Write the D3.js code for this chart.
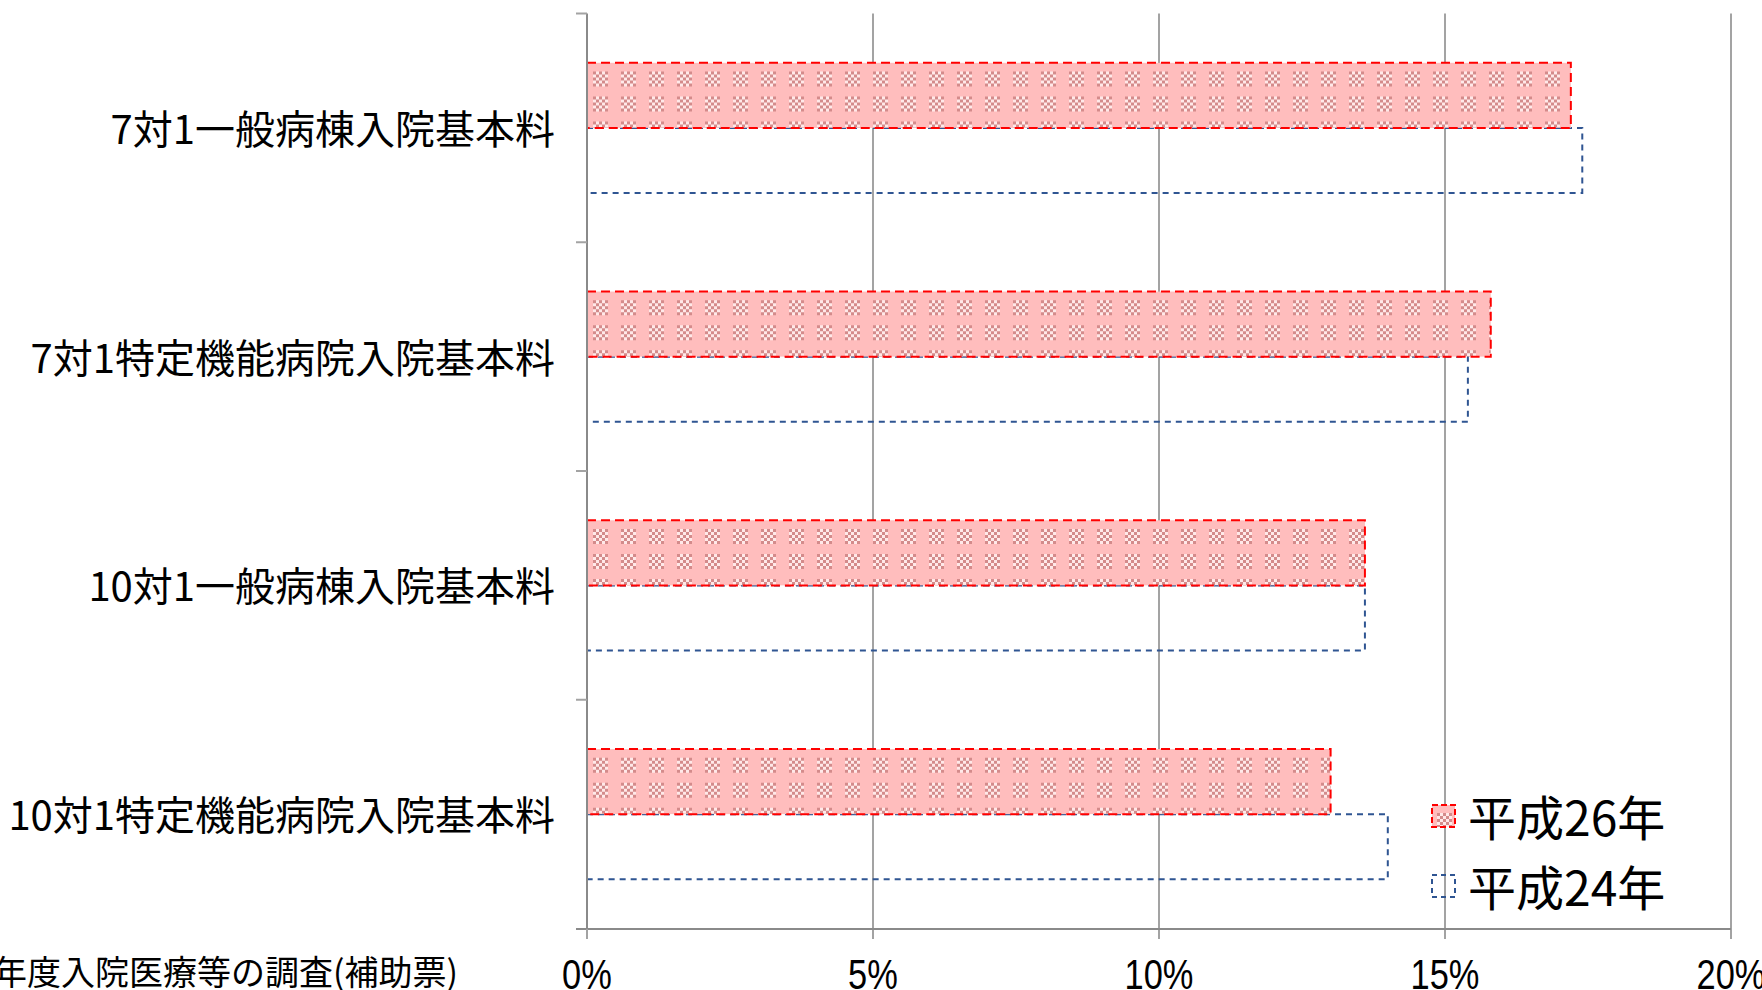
<!DOCTYPE html>
<html>
<head>
<meta charset="utf-8">
<script src="https://cdn.jsdelivr.net/npm/d3@7"></script>
<style>
  html, body { margin: 0; padding: 0; background: #fff; overflow: hidden; }
  svg { display: block; }
</style>
</head>
<body>
<svg width="1762" height="990"></svg>
<script>
// categories and series
var categories = ['7対1一般病棟入院基本料', '7対1特定機能病院入院基本料', '10対1一般病棟入院基本料', '10対1特定機能病院入院基本料'];
var seriesNames = ['平成26年', '平成24年'];
var h26 = [17.2, 15.8, 13.6, 13.0];
var h24 = [17.4, 15.4, 13.6, 14.0];
var xTicks = [0, 5, 10, 15, 20];
var sourceText = '出典：平成26年度入院医療等の調査(補助票)';

var svg = d3.select('svg');
var jp = '"Noto Sans CJK JP", "Noto Sans", sans-serif';

var x = d3.scaleLinear().domain([0, 20]).range([587, 1731]);
var y = d3.scaleBand().domain(categories).range([13.5, 928.5]).padding(0);
var y1 = d3.scaleBand().domain(seriesNames).range([0, y.bandwidth()])
	.paddingInner(0).paddingOuter(0.758);

// checker pattern like the excel fill
var defs = svg.append('defs');
var pat = defs.append('pattern')
	.attr('id', 'chk')
	.attr('patternUnits', 'userSpaceOnUse')
	.attr('x', 587).attr('y', 3)
	.attr('width', 28).attr('height', 25);
pat.append('rect').attr('width', 28).attr('height', 25).attr('fill', '#ffbdbd');
for (var i = 0; i < 5; i++) {
	for (var j = 0; j < 5; j++) {
		pat.append('rect')
			.attr('x', 6 + i * 3).attr('y', 5 + j * 3)
			.attr('width', 3).attr('height', 3)
			.attr('fill', (i + j) % 2 === 0 ? '#d48b8b' : '#ffe9e9');
	}
}

// gridlines
svg.append('g').selectAll('line')
	.data(xTicks.slice(1))
	.join('line')
	.attr('x1', d => x(d)).attr('x2', d => x(d))
	.attr('y1', 13.5).attr('y2', 939)
	.attr('stroke', '#a3a3a3').attr('stroke-width', 2);

// bottom axis line + ticks
svg.append('line')
	.attr('x1', 576).attr('x2', x(20))
	.attr('y1', 929).attr('y2', 929)
	.attr('stroke', '#8a8a8a').attr('stroke-width', 2);
svg.append('line')
	.attr('x1', x(0)).attr('x2', x(0))
	.attr('y1', 929).attr('y2', 939)
	.attr('stroke', '#a3a3a3').attr('stroke-width', 2);

// bars
var rows = categories.map(function(c, k) {
	return {cat: c, vals: [h26[k], h24[k]]};
});
var grp = svg.append('g').selectAll('g')
	.data(rows)
	.join('g')
	.attr('transform', d => 'translate(0,' + y(d.cat) + ')');

grp.append('rect')
	.attr('x', x(0))
	.attr('y', y1(seriesNames[1]))
	.attr('width', d => x(d.vals[1]) - x(0))
	.attr('height', y1.bandwidth())
	.attr('fill', 'none')
	.attr('stroke', '#2f5592').attr('stroke-width', 2)
	.attr('stroke-dasharray', '6,5');

grp.append('rect')
	.attr('x', x(0))
	.attr('y', y1(seriesNames[0]))
	.attr('width', d => x(d.vals[0]) - x(0))
	.attr('height', y1.bandwidth())
	.attr('fill', 'url(#chk)')
	.attr('stroke', '#ff0000').attr('stroke-width', 2)
	.attr('stroke-dasharray', '9,5');

// left axis with category ticks
svg.append('line')
	.attr('x1', x(0)).attr('x2', x(0))
	.attr('y1', 13.5).attr('y2', 929)
	.attr('stroke', '#8a8a8a').attr('stroke-width', 2);
svg.append('g').selectAll('line')
	.data(categories)
	.join('line')
	.attr('x1', 576).attr('x2', x(0))
	.attr('y1', d => y(d)).attr('y2', d => y(d))
	.attr('stroke', '#a3a3a3').attr('stroke-width', 2);

// category labels
svg.append('g').selectAll('text')
	.data(categories)
	.join('text')
	.attr('x', 555)
	.attr('y', d => y(d) + y.bandwidth() / 2 + 16)
	.attr('text-anchor', 'end')
	.style('font-family', jp)
	.style('font-size', '40px')
	.attr('fill', '#000')
	.text(d => d);

// x tick labels
svg.append('g').selectAll('text')
	.data(xTicks)
	.join('text')
	.attr('transform', d => 'translate(' + x(d) + ',989) scale(0.82,1)')
	.attr('text-anchor', 'middle')
	.style('font-family', '"Liberation Sans Narrow", "Liberation Sans", sans-serif')
	.style('font-size', '42px')
	.attr('fill', '#000')
	.text(d => d + '%');

// source note, partly off the left edge like the original
svg.append('text')
	.attr('x', 458).attr('y', 985)
	.attr('text-anchor', 'end')
	.style('font-family', jp)
	.style('font-size', '34px')
	.attr('fill', '#000')
	.text(sourceText);

// legend
var leg = svg.append('g').selectAll('g')
	.data(seriesNames)
	.join('g')
	.attr('transform', (d, k) => 'translate(1432,' + (805 + k * 70) + ')');
leg.append('rect')
	.attr('width', 23).attr('height', 22)
	.attr('fill', (d, k) => k === 0 ? 'url(#chk)' : 'none')
	.attr('stroke', (d, k) => k === 0 ? '#ff0000' : '#2f5592')
	.attr('stroke-width', 2)
	.attr('stroke-dasharray', (d, k) => k === 0 ? '6,3' : '5,4');
leg.append('text')
	.attr('x', 36).attr('y', 31)
	.style('font-family', jp)
	.style('font-size', '48px')
	.attr('fill', '#000')
	.text(d => d);
</script>
</body>
</html>
